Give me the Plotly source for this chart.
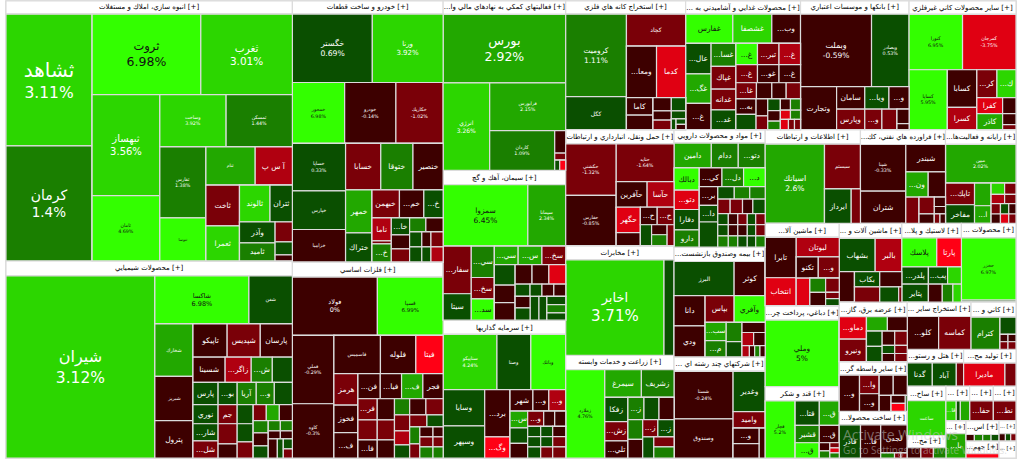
import plotly.graph_objects as go

def H(*c): return ("H", c)
def V(*c): return ("V", c)
M, R, RR, DG, G1, G2 = -0.5, -1.5, -2.5, 0.5, 1.3, 2.5
G3, LM, RD, FR = 3.5, 6.0, -3.5, -5.0

_c = H(V(("وآذر", 735, DG), ("ثاميد", 630, G1)), V(("", 340, R), ("", 221, DG), ("", 102, M)))
_c = V(H(("ثالوند", 1110, G3), ("ثتران", 814, DG)), _c)
_c = H(V(("ثاخت", 1353, R), ("ثعمرا", 1155, G3)), _c)
_c = V(H(("ثنام", 1862, G2), ("آ س پ", 1406, RR)), _c)
_c = H(V(("ثفارس", 3230, 1.38), ("ثنوسا", 1957, LM)), _c)
_c = V(H(("وساخت", 3430, 3.92), ("ثمسكن", 3430, 1.44)), _c)
_c = H(V(("ثبهساز", 6767, 3.56), ("ثامان", 4355, 4.69)), _c)
_c = V(H(("ثروت", 8640, 6.98), ("ثغرب", 7280, 3.01)), _c)
construction = V(("انبوه سازي، املاك و مستغلات [+]", 3718, None),
                 H(V(("ثشاهد", 11220, 3.11), ("كرمان", 9775, 1.4)), _c))

_c = V(H(("", 120, G1), ("", 120, G1)), H(("", 96, M), ("", 96, M)),
       H(("", 171, M), ("", 114, DG), V(("", 90, DG), ("", 81, R))))
_c = H(V(("", 180, G1), ("", 195, M), ("", 180, DG)), _c)
_c = V(H(("", 208, R), ("", 208, G2), ("", 208, M)), _c)
_c = H(V(("نوري", 475, DG), ("...شار", 425, DG), ("...شل", 425, R)),
       V(("جم", 361, R), ("", 380, R), ("", 266, M)),
       V(("", 304, DG), ("", 288, DG), ("", 256, R)), _c)
_c = V(H(("تاپيكو", 1122, M), ("شپديس", 1089, R), ("پارسان", 1056, M)),
       H(("شسينا", 800, M), ("...زاگر", 650, RR), ("...ش", 525, G1), ("", 500, DG)),
       H(("پارس", 550, DG), ("...بو", 418, DG), ("آريا", 418, G1), ("...و", 396, G1), ("", 396, DG)), _c)
_c = H(V(("شخارك", 1976, G2), ("شبريز", 1672, M), ("پترول", 1406, M)), _c)
_c = V(H(("شاكسا", 4464, 6.98), ("شفن", 2064, DG)), _c)
chemicals = V(("محصولات شيميايي [+]", 4290, None), H(("شيران", 26788, 3.12), _c))

_c = H(V(("", 180, DG), ("", 180, DG)), V(("", 135, M), ("", 135, DG)), V(("", 180, R), ("", 180, RR)))
_c = V(H(("", 224, G1), ("", 238, M)), _c)
_c = H(V(("ناما", 437, RR), ("", 57, R), ("...خ", 342, G1)), V(("...خا", 306, DG), ("", 252, M), ("", 234, R)), _c)
_c = V(H(("خبهمن", 756, R), ("...خم", 672, M), ("...خ", 532, DG)), _c)
_c = H(V(("خمهر", 1118, G2), ("ختراك", 754, DG)), _c)
_c = V(H(("خسابا", 1610, R), ("ختوقا", 1472, G1), ("خنصير", 1380, M)), _c)
auto = V(("خودرو و ساخت قطعات [+]", 1937, None),
         H(("خگستر", 5372, 0.69), ("ورنا", 4760, 3.92)),
         H(("خمحور", 3120, 6.98), ("خودرو", 3060, -0.14), ("خكاريك", 2820, -1.02)),
         H(V(("خساپا", 2491, 0.33), ("خپارس", 2014, DG), ("خزاميا", 1696, M)), _c))

_c = H(V(("", 170, G1), ("", 140, R)), V(("", 130, M), ("", 130, R), ("", 143, G1)),
       V(("", 100, M), ("", 100, R), ("", 110, G1)))
_c = V(H(("", 256, M), ("", 272, R)), H(("", 204, R), ("", 192, DG)), _c)
_c = H(V(("...فر", 399, R), ("", 380, R), ("...فا", 342, M)), V(("", 357, M), ("", 340, R), ("", 306, M)),
       V(("", 240, G1), ("", 240, R), ("", 210, RR), ("", 195, DG)), _c)
_c = V(H(("...فن", 550, M), ("...فيا", 525, M), ("...ف", 525, G2), ("فجر", 500, M)), _c)
_c = H(V(("هرمز", 744, R), ("فخوز", 648, M), ("...ف", 600, M)), _c)
_c = V(H(("فاسميس", 1748, M), ("فلوله", 1330, M), ("فيتا", 1026, FR)), _c)
metals = V(("فلزات اساسي [+]", 2235, None),
           H(("فولاد", 4872, 0), ("فسپا", 3770, 6.99)),
           H(V(("فملي", 2788, -0.29), ("كاوه", 2214, -0.3)), _c))

_c = V(("", 242, M), ("", 77, R), H(("", 50, DG), ("", 60, FR)))
_c = V(("فرابورس", 3572, 2.15), H(("كاردان", 2535, 1.09), _c))
finance = V(("...فعاليتهاي كمكي به نهادهاي مالي وا [+]", 1599, None),
            ("بورس", 8241, 2.92), H(("انرژي", 4002, 3.26), _c))

_c = V(H(("", 323, M), ("", 323, M), ("", 323, RD)),
       H(("", 180, DG), ("", 144, DG), ("", 144, M), ("", 144, M)),
       H(V(("", 165, M), ("", 180, DG)), ("", 207, DG), ("", 184, DG),
         V(("", 152, DG), ("", 152, G1), ("", 133, DG))))
_c = H(V(("", 420, DG), ("", 357, M), ("", 357, M)), _c)
_c = V(H(("...سي", 432, G2), ("...س", 432, G2), ("...سخ", 432, R)), _c)
cement = V(("سيمان، آهك و گچ [+]", 1722, None),
           H(("سمزوا", 5100, 6.45), ("سيمانا", 2280, 2.34)),
           H(V(("...سفار", 1316, R), ("سيتا", 728, DG)),
             V(("...سي", 713, G1), ("...سخ", 483, R), ("...سد", 483, LM)), _c))

_c = H(V(("", 130, DG), ("", 130, DG), ("", 143, DG)), V(("", 120, DG), ("", 120, DG), ("", 132, R)),
       V(("", 130, M), ("", 130, R), ("", 143, R)))
_c = V(H(("...و", 240, R), ("", 165, M), ("", 165, M)), _c)
_c = H(V(("...س", 288, G2), ("", 270, DG), ("", 252, M)), _c)
_c = V(H(("شهر", 483, M), ("...و", 336, M), ("...و", 357, RR)), _c)
invest = V(("سرمايه گذاريها [+]", 1722, None),
           H(("ستاپيكو", 2916, 4.24), ("وصنا", 1836, DG), ("وبانك", 1890, LM)),
           H(V(("وسايا", 1476, DG), ("وسپهر", 1312, DG)), V(("...برد", 1175, M), ("...وگ", 525, FR)), _c))

_c = H(V(("", 234, M), ("", 162, M), ("", 170, R)),
       V(("", 182, DG), ("", 112, DG), H(("", 50, DG), V(("", 50, DG), ("", 50, M)))))
_c = H(V(("كاما", 450, M), ("", 375, M)), _c)
_c = V(("كچاد", 1829, R), H(("...ومعا", 1500, M), ("كدما", 1450, RD)), _c)
mining = V(("استخراج كانه هاي فلزي [+]", 1534, None),
           H(V(("كروميت", 4838, 1.11), ("كگل", 1947, DG)), _c))

_c = V(H(("", 110, M), ("", 110, G1)), H(("", 90, RD), ("", 90, G1)), H(("", 80, RD), ("", 60, R), ("", 60, R)))
_c = H(V(("...به", 300, M), ("", 300, DG)), V(("", 192, M), ("", 156, R)),
       V(("", 143, DG), ("", 130, M), ("", 104, G1)), _c)
_c = V(H(("...غ", 441, LM), ("...تبر", 441, R), ("...غ", 441, RR)),
       H(("...غ", 378, R), ("...غو", 378, M), ("...غ", 378, M)),
       H(("...غا", 320, R), ("", 240, M), ("", 224, M), ("", 224, R)), _c)
food = V(("... محصولات غذايي و آشاميدني به [+]", 1469, None),
         H(("غفارس", 1334, LM), ("غشصفا", 1102, G3), ("...وب", 812, M)),
         H(V(("...عال", 750, DG), ("...غگ", 725, G2), ("...غ", 650, M)),
           V(("...غسا", 550, G1), ("غپاك", 550, R), ("غدانه", 500, R), ("...غد", 475, DG)), _c))

_c = V(H(("سامان", 616, M), ("...ويا", 528, DG), ("...و", 440, M)),
       H(("وپارس", 560, R), ("...و", 340, R), ("", 300, R), V(("", 168, M), ("", 72, M))))
banks = V(("بانكها و موسسات اعتباري [+]", 1391, None),
          H(("وبملت", 4970, -0.59), ("وبصادر", 2627, 0.53)), H(("وتجارت", 1505, M), _c))

_c = H(V(("كفرا", 400, RD), ("كاذر", 400, G2)), V(("", 208, M), ("", 143, M), ("", 65, R)))
_c = V(H(("...كر", 540, R), ("...ك", 513, G3)), _c)
minerals = V(("ساير محصولات كاني غيرفلزي [+]", 1391, None),
             H(("كنورا", 2862, 6.95), ("كمرجان", 2862, -3.75)),
             H(("كساپا", 2220, 5.95), V(("كسابا", 1073, M), ("كسرا", 638, RR)), _c))

_c = V(H(("...ح", 289, M), ("...ح", 289, R)), H(("", 231, DG), V(("", 150, M), ("", 165, G1)), ("", 147, R)))
_c = H(V(("حگهر", 600, RD), ("", 312, M)), _c)
transport = V(("حمل ونقل، انبارداري و ارتباطات [+]", 1512, None),
              H(V(("حكشتي", 2550, -1.32), ("حفارس", 2500, -0.85)),
                V(("حتايد", 2146, -1.64), H(("حآفرين", 775, M), ("حآسا", 675, RR)), _c)))
telecom = V(("مخابرات [+]", 1512, None), H(("اخابر", 9212, 3.71), ("", 940, DG)))

_c = V(H(("...ز", 255, R), ("...ز", 272, DG)), H(("", 231, DG), V(("", 200, R), ("", 220, G1))))
_c = H(V(("", 285, G1), ("", 270, M)), _c)
_c = V(H(("...ز", 352, G1), ("", 330, DG), ("", 330, M)), _c)
_c = H(V(("زفكا", 552, DG), ("...زش", 437, R), ("...تلي", 391, M)), _c)
agri = V(("زراعت و خدمات وابسته [+]", 1512, None),
         H(("زملارد", 3393, 4.76), V(H(("سيمرغ", 999, G2), ("زشريف", 891, G1)), _c)))

_c = V(H(("", 99, R), ("", 88, DG), ("", 99, R)), H(("", 99, M), ("", 88, DG), ("", 99, R)),
       H(("", 99, DG), ("", 88, DG), ("", 99, G1)))
_c = H(V(("", 110, DG), ("", 110, DG), ("", 110, G1)), V(("", 99, M), ("", 99, M), ("", 99, G1)), _c)
_c = V(H(("", 192, DG), ("", 180, G1), ("", 180, G1)), H(("", 168, R), ("", 168, R), ("", 140, M), ("", 168, DG)), _c)
_c = H(V(("...بر", 324, M), ("...دا", 288, DG), ("", 432, DG)), _c)
_c = V(H(("...كي", 396, M), ("...دل", 378, G1), ("...د", 378, LM)), _c)
pharma = V(("مواد و محصولات دارويي [+]", 1144, None),
           H(("دامين", 864, G2), ("ددام", 624, G1), ("...دتو", 624, G1)),
           H(V(("دبالك", 528, LM), ("...دتو", 456, RD), ("دفارا", 480, DG), ("دارو", 408, G1)), _c))

_c = V(("", 220, M), H(("", 143, RR), ("", 143, M)), H(("", 77, RR), ("", 55, M), ("", 55, G1), ("", 55, M)))
_c = H(V(("...سب", 360, G2), ("...م", 320, G1)), V(("", 285, G1), ("", 225, DG)), _c)
insurance = V(("...بيمه وصندوق بازنشست [+]", 1232, None),
              H(("البرز", 1914, DG), ("كوثر", 990, M)),
              H(V(("دانا", 885, M), ("ودي", 900, M)), V(H(("بپاس", 728, R), ("وآفري", 780, LM)), _c)))

multi = V(("... شركتهاي چند رشته اي [+]", 1232, None),
          H(V(("شستا", 2622, -0.24), ("وصندوق", 2166, -0.3)),
            V(("وغدير", 1209, DG), ("واميد", 496, R), H(V(("...و", 375, M), ("", 350, M)), ("", 174, M)))))
ict = V(("اطلاعات و ارتباطات [+]", 1288, None),
        H(("اسياتك", 4389, 2.6), V(("سيستم", 1505, R), H(("ايرداز", 858, DG), ("", 297, R)))))

_c = H(("", 325, R), V(("", 240, R), ("", 135, M)), V(("", 99, M), ("", 77, M), H(("", 50, R), ("", 49, M))))
oil = V(("...فراورده هاي نفتي، كك [+]", 1176, None),
        H(V(("شپنا", 1980, -0.33), ("شتران", 1364, M)),
          V(("شبندر", 1014, M), H(("...ون", 528, G2), ("", 408, M)), _c)))

_c = V(H(("", 143, G3), ("", 121, R)), H(("", 117, RR), ("", 99, R)),
       H(("", 90, R), ("", 80, DG), ("", 70, M)), H(("", 81, M), ("", 72, RD), ("", 63, R)))
computing = V(("...رايانه و فعاليت‌ها [+]", 966, None), ("مبين", 2553, 2.02),
              H(V(("...تاپك", 588, R), ("مفاخر", 504, DG)), V(("", 352, G2), ("...ا", 272, G2)), _c))

_c = V(H(("", 210, G1), ("", 182, R)), H(("", 195, M), V(("", 78, R), ("", 91, DG))))
machinery_a = V(("...ماشين آلا [+]", 980, None),
                H(V(("تابرا", 1170, M), ("انتخاب", 810, RD)),
                  V(("لبوتان", 779, RR), H(("تكنو", 441, M), ("...و", 420, R)), H(("", 351, RD), _c))))
leather = V(("...دباغي، پرداخت چر [+]", 994, None), ("وملي", 4615, 5))
sugar = V(("قند و شكر [+]", 994, None),
          H(("قچار", 1596, 5.2), V(("...قتا", 552, DG), ("قشير", 391, G1), ("...ق", 345, LM)),
            V(("...ق", 456, G2), ("...ق", 323, M),
              H(V(("", 80, M), ("", 70, G1)), V(("", 45, R), ("", 45, RD), ("", 45, G1))))))
machinery_b = V(("... ماشين آلات و [+]", 882, None),
                H(("بشهاب", 1120, DG), ("بالبر", 832, RR)),
                H(("", 434, M), V(H(("بكاب", 360, DG), ("", 315, M)),
                                  H(("", 360, R), ("", 270, DG), ("", 45, R)))))
rubber = V(("...لاستيك و پلا [+]", 812, None),
           H(("پلاسك", 952, LM), ("پارتا", 672, FR)),
           H(V(("...پلدر", 425, DG), ("پتاير", 450, DG)),
             V(H(("...پب", 306, DG), ("", 221, G3)), H(("", 234, M), ("", 180, G1), ("", 144, G3)))))
products = V(("... محصولات [+]", 742, None), ("حخزر", 3180, 6.97), ("", 106, DG))

_c = H(V(("", 225, DG), ("", 225, DG)), V(("", 168, M), ("", 96, DG), ("", 96, M)),
       V(("", 168, R), ("", 96, R), ("", 96, R)))
power = V(("...عرضه برق، گاز [+]", 924, None),
          H(V(("...دماو", 572, RD), ("ونيرو", 572, R)), V(H(("", 280, G2), ("", 266, M)), _c)))
_c = V(H(("", 266, M), ("", 266, M)), H(("", 176, M), V(("", 104, M), ("", 104, FR)), ("", 32, DG)))
brokers = V(("...ساير واسطه گر [+]", 858, None), H(("...و", 684, M), V(("...وا", 342, R), ("...و", 323, M)), _c))
steel = V(("...ساخت محصولا [+]", 858, None),
          H(("فاذر", 660, DG), ("...فا", 627, M), V(("لجدن", 700, M), H(("", 65, G1), ("", 30, R), ("", 30, R)))))
other_mining = V(("... استخراج ساير [+]", 854, None), H(("...كلو", 960, M), ("كماسه", 992, R)))
nonmetal = V(("... كاني و [+]", 630, None),
             H(("كترام", 868, G1), V(("", 256, DG), H(("", 56, M), ("", 56, M)), H(("", 56, R), ("", 56, R)))))
hotel = V(("...هتل و رستو [+]", 715, None), H(("گدنا", 552, DG), ("آباد", 529, DG), ("", 161, R)))
production = V(("...توليد مح [+]", 676, None), H(("ماديرا", 902, RD), ("", 242, R)))
watch = V(("...ساخ [+]", 518, None), ("ساعت", 1258, G3))
metal_products = V(("...مح [+]", 444, None), H(("", 130, M), ("", 120, R), ("", 120, G1)))
small_a = V(("... [+]", 322, None), H(("...قا", 190, G3), ("", 76, DG), ("", 171, G2)))
small_b = V(("... [+]", 322, None), ("...حفا", 437, R))
small_c = V(("... [+]", 308, None), ("...نط", 418, R))
small_d = V(("... [+]", 247, None), ("...با", 456, G2))
small_e = V(("...اس [+]", 429, None), H(("", 50, M), ("", 50, G1), ("", 50, G1), ("", 48, DG)),
            ("...جهم [+]", 396, None), ("", 132, FR))
small_f = V(("... [+]", 208, None), H(("", 42, M), ("", 35, DG), ("", 35, R)), ("... [+]", 272, None))

FONT = {"ثشاهد": (20, 15.5), "كرمان": (14, 13.5), "ثروت": (11.5, 12.5), "ثغرب": (10.5, 10.5),
        "ثبهساز": (10, 10), "شيران": (16, 15.5), "بورس": (13, 12.5), "اخابر": (13, 15),
        "خگستر": (8, 7.7), "ورنا": (7, 7), "سمزوا": (7.5, 7.5), "انرژي": (6, 6), "وبملت": (8, 7.5),
        "كروميت": (7.5, 7.5), "اسياتك": (8, 7.6), "وملي": (7.5, 7.5), "شاكسا": (6.5, 6.5),
        "فولاد": (6.5, 6.5), "فسپا": (5.5, 5.5)}
TINY_PCT = ["وساخت", "ثمسكن", "ثامان", "ثفارس", "ستاپيكو", "زملارد", "شستا", "وبصادر", "كنورا", "كمرجان",
            "كساپا", "فرابورس", "كاردان", "خمحور", "خودرو", "خكاريك", "خساپا", "فملي", "كاوه", "سيمانا",
            "حكشتي", "حفارس", "حتايد", "شپنا", "مبين", "حخزر", "قچار"]
SMALL_NAMES = {"ثنام": 4.5, "ثنوسا": 4, "شفن": 5, "شخارك": 5, "شبريز": 5, "خپارس": 5, "خزاميا": 5,
               "فاسميس": 5, "كگل": 6, "كچاد": 6, "البرز": 6, "وصندوق": 6, "وصنا": 5, "وبانك": 5,
               "سيستم": 5, "ساعت": 5}

ids, parents, labels, values, colors, texts, fonts, fcolors = [], [], [], [], [], [], [], []

def shade(c):
    if c >= 4.5: return "#33ff00"
    if c >= 3: return "#2cd600"
    if c >= 2: return "#22a800"
    if c >= 1: return "#1a7f00"
    if c > 0: return "#0a4f00"
    if c >= -1: return "#3d0000"
    if c >= -2: return "#7a0008"
    if c >= -3: return "#b00010"
    if c > -4.5: return "#e00012"
    return "#ff0015"

def add(parent, val, col, text, size, fcol):
    i = f"n{len(ids)}"
    ids.append(i); parents.append(parent); labels.append(i); values.append(val)
    colors.append(col); texts.append(text); fonts.append(size); fcolors.append(fcol)
    return i

def rescaled(item, k):
    if item[0] in ("H", "V"):
        return (item[0], tuple(rescaled(c, k) for c in item[1]))
    return (item[0], item[1] * k, item[2])

def build(item, parent, depth):
    if item[0] in ("H", "V"):
        want = 0 if item[0] == "H" else 1
        if depth % 2 != want:
            parent = add(parent, 0, "#cccccc", "", 8, "#000")
            depth += 1
        me = add(parent, 0, "#cccccc", "", 8, "#000")
        for ch in item[1]:
            build(ch, me, depth + 1)
        return
    name, val, ch = item
    if ch is None:
        add(parent, val, "#ffffff", name, 7, "#000000")
        return
    fc = "#111111" if ch >= 4.5 else "#ffffff"
    if name in FONT:
        ns, ps = FONT[name]
        add(parent, val, shade(ch), f"<span style='font-size:{ns}px'>{name}</span><br>{ch:g}%", ps, fc)
    elif name in TINY_PCT:
        add(parent, val, shade(ch), f"{name}<br>{ch:g}%", 4.8, fc)
    else:
        add(parent, val, shade(ch), name, SMALL_NAMES.get(name, 7.5), fc)

left_a = V(transport, telecom, agri)
left_b = V(pharma, insurance, multi)
left_c = V(H(ict, oil, computing),
           H(V(machinery_a, leather, sugar),
             V(H(machinery_b, rubber, products),
               H(V(power, brokers, steel),
                 V(H(other_mining, nonmetal),
                   H(hotel, production),
                   H(V(watch, metal_products),
                     V(H(small_a, small_b, small_c),
                       H(small_d, small_e, small_f))))))))
right_side = V(rescaled(H(mining, food, banks, minerals), 0.9715),
               H(rescaled(left_a, 0.957), rescaled(left_b, 1.005), rescaled(left_c, 1.005)))
market = H(
    rescaled(V(construction, chemicals), 0.981),
    rescaled(V(auto, metals), 0.987),
    rescaled(V(finance, cement, invest), 0.988),
    rescaled(right_side, 1.0315),
)

build(market, "", 0)

fig = go.Figure(go.Treemap(
    ids=ids, labels=labels, parents=parents, values=values, branchvalues="remainder",
    text=texts, textinfo="text", textposition="middle center", sort=False,
    hoverinfo="skip", opacity=1,
    textfont=dict(family="DejaVu Sans", size=fonts, color=fcolors),
    marker=dict(colors=colors, line=dict(color="#dcdcdc", width=1.2), depthfade=False,
                pad=dict(t=0, l=0, r=0, b=0)),
    tiling=dict(packing="slice-dice", pad=0),
    pathbar=dict(visible=False), root=dict(color="#cccccc"),
))
fig.update_layout(
    width=1024, height=473, margin=dict(l=6, r=8, t=1, b=15),
    paper_bgcolor="white",
    annotations=[
        dict(text="Activate Windows", x=0.827, y=0.0525, xref="paper", yref="paper", showarrow=False,
             xanchor="left", yanchor="middle", font=dict(family="Open Sans", size=14, color="rgba(200,200,200,0.5)")),
        dict(text="Go to Settings to activate Windows.", x=0.827, y=0.0175, xref="paper", yref="paper",
             showarrow=False, xanchor="left", yanchor="middle", font=dict(family="Open Sans", size=10, color="rgba(200,200,200,0.5)")),
    ],
)
FIT_TEXT = """
document.body.style.margin='0';document.body.style.overflow='hidden';
var gd=document.getElementById('{plot_id}');
gd.querySelectorAll('g.slice').forEach(function(s){
  var t=s.querySelector('g.slicetext text'), p=s.querySelector('path.surface');
  if(!t||!p||!t.textContent) return;
  var a=p.getBBox(), b=t.getBBox();
  var k=Math.min(1,(a.width-1)/b.width,(a.height+3)/b.height);
  var tr=t.getAttribute('transform')||'';
  if(tr.indexOf('scale(')>=0) t.setAttribute('transform',tr.replace(/scale\\([^)]*\\)/,'scale('+k+')'));
});
"""
fig.write_html("out.html", config=dict(displayModeBar=False), post_script=FIT_TEXT)
